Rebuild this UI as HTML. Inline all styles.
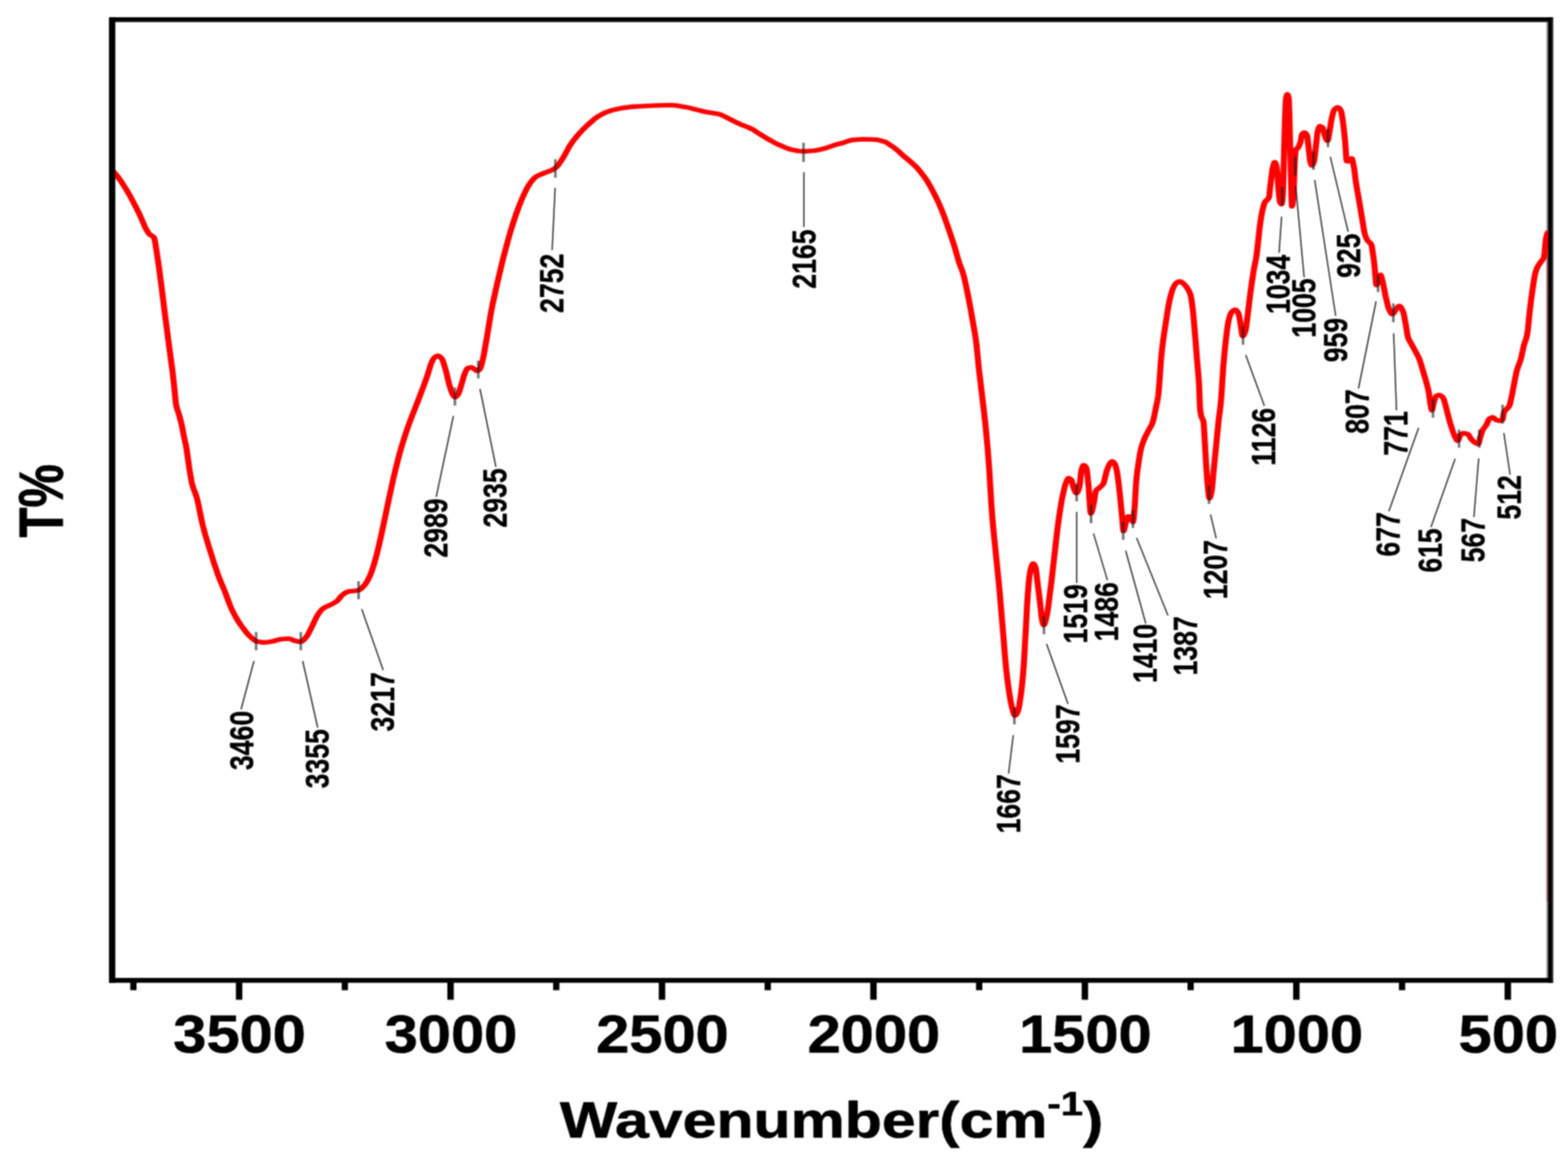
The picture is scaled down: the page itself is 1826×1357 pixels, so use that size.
<!DOCTYPE html>
<html lang="en"><head><meta charset="utf-8"><title>FTIR spectrum</title>
<style>html,body{margin:0;padding:0;background:#fff;overflow:hidden}svg{display:block}text{font-family:"Liberation Sans",sans-serif;fill:#000}.b{font-weight:700}</style></head><body>
<svg width="1826" height="1357" viewBox="0 0 1826 1357">
<defs><filter id="soft" x="0" y="0" width="1826" height="1357" filterUnits="userSpaceOnUse" color-interpolation-filters="sRGB"><feConvolveMatrix order="3" kernelMatrix="1 2 1 2 4 2 1 2 1" divisor="16" edgeMode="duplicate" preserveAlpha="true"/></filter></defs>
<rect width="1826" height="1357" fill="#fff"/>
<g filter="url(#soft)">
<rect width="1826" height="1357" fill="#fff"/>
<rect x="1800.9" y="22" width="2.4" height="1121" fill="#858585"/>
<rect x="1800.9" y="270" width="2.4" height="780" fill="#965656"/>
<g transform="scale(1.3,1)"><path d="M100.77 199 L103.08 202 L104.42 204.08 L105.96 206.67 L109.04 212.39 L113.08 220.61 L115 224.83 L117.12 229.76 L123.27 244.98 L125 249.76 L129.42 262.95 L130.58 266.07 L131.54 268.42 L132.69 270.83 L133.92 272.8 L134.81 273.72 L136.73 275.14 L137.5 276.04 L137.88 276.67 L138.08 277.17 L138.46 278.8 L138.85 281.11 L139.42 285.49 L141.35 301.83 L142.5 312.48 L144.62 333.27 L147.69 365.42 L152.38 412 L154.42 431.38 L155.77 446.78 L157.5 469.39 L157.88 472.26 L158.46 475.38 L160.38 482.87 L162.31 492.34 L163.27 497.95 L164.92 509.6 L166.54 518.5 L167.5 526.06 L169.62 545.95 L170.77 554.98 L171.54 560.4 L172.12 563.75 L172.88 567.27 L173.65 570.17 L175.58 576.77 L176.54 580.92 L177.69 587.3 L180.38 604.69 L181.54 611.49 L183.85 622.76 L186.54 634.49 L191.54 655.14 L195 668.42 L197.12 675.68 L201.35 688.76 L205.96 704.77 L207.69 710 L209.23 714.04 L210.77 717.8 L213.46 723.73 L216.35 729.27 L219.62 734.94 L221.15 737.36 L222.69 739.59 L224.23 741.59 L226.73 744.51 L227.88 745.72 L228.85 746.51 L229.42 746.85 L230.19 747.12 L233.46 747.95 L235.77 748.23 L237.88 748.19 L240.58 747.8 L244.81 746.86 L249.62 745.07 L251.35 744.59 L255.38 744.14 L258.65 744 L259.42 744.1 L260.38 744.44 L263.08 745.94 L264.23 746.44 L267.31 747.28 L269.23 747.5 L269.81 747.39 L270.38 747.08 L271.54 745.97 L272.5 744.73 L274.04 742.5 L275 740.86 L275.96 738.78 L276.92 736.39 L280.58 726.74 L282.88 720.33 L284.04 717.47 L285.19 715.14 L286.54 712.68 L287.69 710.84 L288.65 709.56 L289.62 708.58 L290.77 707.67 L291.92 706.93 L295.96 704.63 L299.23 702.34 L301.15 700.75 L302.12 699.79 L302.88 698.8 L305.38 694.77 L306.35 693.43 L308.46 691.3 L310 690.04 L311.15 689.39 L312.69 688.94 L314.42 688.63 L318.46 688.13 L320.38 687.73 L321.54 687.34 L322.5 686.69 L324.04 685.06 L326.35 681.94 L327.69 679.62 L329.23 676.34 L331.15 671.44 L331.92 669.1 L332.88 665.79 L334.04 661.39 L335.58 655 L337.31 646.8 L339.23 636.45 L341.73 622.21 L349.62 573.62 L351.73 561.08 L354.04 548.31 L356.15 537.14 L357.88 528.59 L359.62 520.68 L362.69 507.83 L366.15 494.68 L368.65 486.01 L374.23 467.62 L379.81 448.47 L382.88 437.26 L385.77 425.01 L386.35 423.06 L387.31 420.4 L388.27 418.07 L388.85 416.99 L389.23 416.46 L390.77 415.1 L391.35 414.75 L391.92 414.54 L392.69 414.56 L393.08 414.72 L393.65 415.13 L394.81 416.43 L395.58 417.5 L395.96 418.21 L396.54 419.77 L397.12 421.79 L399.23 430.84 L400 434.68 L402.31 447.38 L404.23 455.46 L405 458.11 L405.58 459.61 L406.73 461.69 L407.12 462.18 L407.5 462.46 L407.88 462.47 L408.27 462.28 L409.04 461.47 L410.19 459.65 L410.77 458.2 L411.73 454.76 L413.65 446.71 L415.38 438.63 L415.96 436.27 L417.5 431.73 L418.08 430.34 L418.65 429.3 L419.23 428.75 L420.38 428.29 L421.54 428.04 L422.5 428.06 L423.08 428.35 L423.65 428.8 L425.19 430.16 L426.54 431.61 L426.92 431.89 L427.31 432 L427.88 431.87 L428.46 431.5 L429.23 430.72 L430 429.68 L430.58 428.06 L431.35 424.72 L432.88 416.44 L433.65 411.66 L436.92 387.07 L439.62 365.53 L441.35 353.79 L446.73 322.71 L450.77 300.83 L453.08 289.38 L455.58 277.52 L457.69 268.03 L459.62 260 L462.31 249.53 L464.62 241.21 L466.73 234.26 L469.23 226.83 L471.54 220.58 L472.69 217.81 L473.65 215.75 L475.38 212.5 L476.73 210.21 L477.88 208.48 L479.04 207.03 L479.81 206.25 L480.96 205.29 L483.27 203.78 L487.5 201.5 L492.5 199.23 L494.62 198 L495.96 197.01 L497.12 195.99 L498.27 194.78 L499.04 193.78 L500 192.29 L500.96 190.61 L504.23 184.23 L505.77 180.83 L509.04 172.93 L510.58 169.44 L512.12 166.42 L514.23 162.71 L517.88 156.97 L522.12 150.99 L525.77 146.36 L530.96 140.36 L533.46 137.72 L535.77 135.61 L538.85 133.33 L541.92 131.36 L544.62 129.93 L547.5 128.72 L550.96 127.53 L554.81 126.48 L559.23 125.5 L563.27 124.79 L567.31 124.28 L572.31 123.83 L583.08 123.13 L594.04 122.66 L600.58 122.5 L603.46 122.64 L607.69 123.27 L614.62 124.77 L617.12 125.5 L622.31 127.25 L631.35 130.13 L634.42 130.9 L641.92 132.35 L644.23 133 L645.58 133.54 L648.08 134.97 L661.35 143.64 L663.85 145.03 L670 148.17 L673.27 150.13 L675.38 151.71 L680.38 155.94 L688.08 162.05 L693.08 165.64 L697.31 168.43 L703.08 171.69 L706.54 173.4 L709.04 174.34 L713.46 175.48 L715.58 175.91 L717.31 176.15 L720.58 176.23 L723.65 176.05 L727.31 175.68 L729.81 175.36 L732.12 174.9 L735.19 174.05 L739.42 172.66 L741.35 171.84 L747.12 169.13 L749.04 168.41 L754.42 166.69 L759.42 164.39 L761.15 163.69 L763.08 163.16 L766.54 162.71 L769.81 162.41 L772.88 162.3 L779.81 162.4 L784.23 162.63 L787.12 163.21 L790.19 164.18 L792.88 165.27 L794.62 166.41 L799.81 170.94 L803.65 174.79 L805.38 176.76 L809.42 181.68 L815.19 187.88 L818.27 191.39 L820.19 193.73 L821.73 195.8 L823.27 198.1 L827.31 204.79 L830.19 210.09 L832.5 215.04 L837.31 226.81 L840.19 234.46 L843.08 243.09 L846.15 253.31 L850.96 271.13 L854.23 283.88 L855.58 289.56 L858.08 301.02 L859.23 305.98 L860 308.91 L861.73 314.57 L862.5 317.5 L863.46 321.98 L864.62 328.27 L867.5 346.24 L869.23 358.2 L873.27 388.13 L874.04 394.55 L874.81 402.03 L876.92 430 L881.54 480.26 L882.88 496.59 L884.04 512.09 L885 526.61 L886.08 545 L888.08 587.89 L889.04 604.28 L890.19 620.66 L894.62 677.6 L895.58 690.73 L898.65 738.01 L900.38 766.2 L901.15 777 L902.12 788.27 L903.08 798.11 L904.23 808.21 L905.38 817.13 L906.35 823.05 L907.88 830.33 L908.27 831.77 L908.65 832.84 L909.04 833.42 L909.23 833.5 L909.62 833.35 L910 832.91 L910.77 831.37 L911.92 828 L912.5 825.42 L913.08 821.61 L913.85 815.2 L914.81 806.11 L915.58 797.47 L916.54 784.14 L917.31 770.88 L919.04 730.38 L920 706.07 L920.77 691.09 L921.35 681.57 L921.92 673.81 L922.5 668.46 L923.27 663.17 L923.85 660.3 L924.23 659 L925 657.14 L925.38 656.6 L925.58 656.5 L925.96 656.67 L926.54 657.59 L927.12 659.12 L927.69 661.17 L928.08 663.91 L928.46 667.74 L929.23 676.56 L931.85 704 L932.88 716.81 L933.27 720.65 L934.04 725.2 L934.62 727.48 L934.81 727.86 L935 728 L935.19 727.91 L935.38 727.65 L935.77 726.7 L936.54 723.44 L937.88 715.85 L938.46 711.61 L939.04 706.47 L942.12 675.03 L946.73 621.88 L948.27 606.3 L949.81 592.77 L951.54 579.73 L953.27 569.44 L953.85 566.58 L954.42 564.2 L955.58 560.22 L956.35 558.06 L956.92 557.14 L957.12 557.02 L957.5 557.03 L957.88 557.18 L958.46 557.6 L959.62 559 L959.81 559.41 L960.19 560.85 L961.35 566.77 L962.88 572.06 L963.46 573.55 L963.85 574.17 L964.23 574.4 L964.62 574.21 L965 573.65 L965.58 572.26 L966.15 570.32 L966.92 567.11 L967.31 563.82 L968.46 549.68 L968.77 547.5 L969.42 544.7 L970 542.83 L970.38 542.1 L970.58 541.93 L970.96 541.95 L971.54 542.34 L971.92 542.8 L972.5 543.76 L973.08 545 L973.27 545.69 L973.65 548.31 L974.04 552.16 L975.19 566.69 L976.54 592.78 L976.92 597.18 L977.12 597.98 L977.31 597.94 L977.69 597.26 L978.08 595.97 L978.85 592.07 L980.19 583.69 L981.15 574.99 L981.35 573.58 L981.69 572 L982.12 571.15 L982.69 570.3 L984.62 568.46 L986.92 565.66 L987.69 564.51 L988.46 563 L988.85 561.82 L989.23 560.13 L991.15 549.53 L992.12 545.93 L993.08 542.78 L994.04 540.36 L995.38 538.05 L995.77 537.65 L996.15 537.5 L996.54 537.59 L996.92 537.85 L997.69 538.75 L998.46 540 L999.04 541.53 L999.62 543.92 L1000.19 546.91 L1000.96 552.1 L1001.73 559.47 L1003.27 576.84 L1005.31 604 L1005.96 614.89 L1006.15 617.3 L1006.35 618.46 L1006.54 618.4 L1006.92 617.42 L1007.31 615.65 L1008.46 609.01 L1009.81 603.29 L1010.19 602.12 L1010.38 601.76 L1010.62 601.6 L1013.08 601.63 L1013.27 601.94 L1013.46 602.53 L1014.23 606.11 L1014.62 607.56 L1014.81 607.93 L1014.92 608 L1015 607.92 L1015.19 607.12 L1015.58 603.44 L1016.38 591.5 L1016.73 584.97 L1017.5 566.58 L1018.08 557.07 L1019.04 546.66 L1020.38 534.95 L1021.15 528.89 L1021.73 524.99 L1022.31 521.83 L1023.27 517.6 L1024.23 514.13 L1025.38 510.46 L1026.54 507.27 L1029.23 500.52 L1031.15 496.12 L1031.92 494.09 L1032.88 490.84 L1033.65 486.83 L1035.23 476.3 L1036.73 467.08 L1037.31 462.75 L1037.69 459.23 L1038.46 448.21 L1040 419.72 L1040.77 409.29 L1041.54 400.78 L1042.5 391.36 L1045.77 363.45 L1046.73 356.14 L1047.5 351.11 L1048.65 344.82 L1049.62 340.22 L1050.38 337.16 L1051.08 335 L1052.31 332.03 L1053.27 330.28 L1054 329.4 L1055.38 328.29 L1056.15 327.91 L1056.92 327.81 L1057.5 328 L1058.27 328.54 L1060 330.23 L1060.96 331.35 L1061.92 332.72 L1063.08 334.68 L1064.42 337.34 L1065.19 339.19 L1065.96 341.55 L1066.54 343.8 L1066.92 345.89 L1067.31 348.74 L1068.46 360 L1069.04 367.14 L1070.77 393.72 L1072.5 422.01 L1073.65 439 L1074.23 450.3 L1074.81 471.39 L1075 476 L1075.38 480.18 L1075.96 484.05 L1076.54 486.46 L1077.31 488.3 L1077.69 489.46 L1078.08 491.3 L1078.27 493.25 L1078.65 500.54 L1080.38 539.86 L1081.54 561.12 L1082.5 573.83 L1083.08 579.35 L1083.27 580.16 L1083.38 580.3 L1083.65 580.09 L1084.04 579.17 L1084.62 576.72 L1085.38 572.3 L1085.96 566.27 L1087.12 549.25 L1091.15 496 L1091.92 487.04 L1093.08 475.47 L1093.69 468 L1094.23 459 L1095.77 427.83 L1097.12 408.17 L1098.08 396.51 L1099.23 384.33 L1100 377.31 L1100.69 372.7 L1101.35 369.55 L1101.92 367.19 L1102.5 365.31 L1103.08 364.02 L1104.42 362.17 L1105.38 361.24 L1105.96 360.92 L1106.35 360.81 L1106.73 360.83 L1107.12 361.02 L1107.88 361.92 L1108.65 363.36 L1109.42 365.2 L1109.81 366.82 L1110.19 369.25 L1111.54 379.47 L1112.5 388.22 L1112.88 390.67 L1113.08 391.33 L1113.27 391.5 L1113.65 391.25 L1114.23 390.21 L1115 387.88 L1115.77 384.86 L1116.15 382.39 L1116.54 378.96 L1120 342.18 L1121.54 327.65 L1123.27 313.35 L1125 302.29 L1125.58 297.69 L1126.35 289.62 L1128.46 264.4 L1128.92 260 L1130 251.19 L1130.58 247.08 L1131.15 243.6 L1131.92 239.86 L1132.69 236.81 L1133.08 235.67 L1133.65 234.49 L1134.23 233.74 L1135.19 232.8 L1135.77 232.09 L1136.35 231 L1136.73 229.84 L1137.12 226.74 L1137.88 217.4 L1139.62 199.21 L1140 196.5 L1140.58 193.3 L1140.96 191.41 L1141.35 189.94 L1141.73 189.11 L1141.92 189 L1142.12 189.1 L1142.5 189.83 L1143.08 192.05 L1143.85 196.5 L1144.23 201.21 L1145.19 219.88 L1145.96 229.59 L1146.54 234.63 L1146.73 235.42 L1147.31 236.99 L1147.69 237.63 L1147.88 237.77 L1148.08 237.74 L1148.27 237.13 L1148.46 235.9 L1148.85 231.98 L1149.15 227.8 L1149.42 220.59 L1150.96 144.59 L1151.54 124.38 L1151.73 119.24 L1152 115 L1152.5 111.76 L1152.88 110.32 L1153.08 110.03 L1153.27 110.04 L1153.46 110.29 L1153.65 110.77 L1154.04 112.35 L1154.46 115 L1154.62 117.61 L1155 133.26 L1156.92 230.39 L1157.12 237.52 L1157.31 240.3 L1157.5 240.03 L1157.69 239.24 L1158.08 236.34 L1158.46 232.01 L1158.85 226.34 L1159.77 190.2 L1160.19 181.18 L1160.58 175.85 L1160.69 175.2 L1161.15 173.99 L1161.54 173.36 L1162.5 172.33 L1162.88 171.77 L1163.46 170.49 L1164.04 168.8 L1164.81 166 L1165.19 164.2 L1165.96 158.69 L1166.35 156.69 L1166.92 155.66 L1167.5 154.95 L1168.08 154.56 L1168.46 154.5 L1169.04 154.75 L1169.62 155.38 L1170.19 156.34 L1170.77 157.6 L1170.96 158.38 L1171.35 161.46 L1173.46 186.07 L1173.65 187.49 L1174.04 189.46 L1174.62 191.82 L1175 192.62 L1175.15 192.7 L1175.38 192.6 L1175.77 192.05 L1176.35 190.49 L1177.08 187.7 L1177.31 186.41 L1177.88 180.99 L1179.81 158.22 L1180.19 154.36 L1180.46 152.6 L1180.96 150.38 L1181.35 148.93 L1181.73 147.82 L1182.12 147.15 L1182.31 147.01 L1182.88 147.1 L1183.27 147.3 L1183.85 147.78 L1184.81 148.96 L1185 149.41 L1185.38 150.96 L1186.54 157.03 L1187.5 160.4 L1188.08 162.21 L1188.46 163.15 L1188.85 163.74 L1189.04 163.88 L1189.23 163.87 L1189.42 163.51 L1189.62 162.82 L1190 160.66 L1191.35 150.64 L1192.5 140.98 L1192.88 138.27 L1194.04 132.11 L1194.81 128.97 L1195.19 127.94 L1196.15 126.56 L1197.12 125.59 L1197.88 125.17 L1198.46 125.11 L1199.04 125.39 L1199.62 125.98 L1200.38 127.19 L1201.15 128.8 L1201.35 129.39 L1201.73 131.35 L1202.31 135.7 L1203.46 146.32 L1204.23 155.18 L1205 165.2 L1205.96 183.11 L1206.15 185.81 L1206.35 187.41 L1206.46 187.7 L1208.38 187.7 L1208.65 187.59 L1209.04 187.14 L1210.19 185.06 L1210.58 184.61 L1210.85 184.5 L1210.96 184.56 L1211.15 184.88 L1211.35 185.46 L1211.73 187.24 L1213.08 196.36 L1214.42 210.31 L1215.19 216.89 L1217.54 234.1 L1220.38 256.19 L1221.54 265.69 L1222.31 271.05 L1222.62 272.6 L1223.27 275.17 L1223.85 277.06 L1224.42 278.63 L1225.08 280.1 L1225.58 280.96 L1227.31 282.92 L1227.88 283.81 L1228.46 285.1 L1228.85 286.87 L1230.19 298.18 L1230.96 306.1 L1231.35 310.69 L1232.69 330.53 L1232.88 331.95 L1233.08 331.94 L1233.27 331.71 L1233.85 330.16 L1235.38 323.26 L1235.96 321.18 L1236.35 320.38 L1236.54 320.22 L1236.73 320.25 L1236.92 320.52 L1237.5 322.45 L1238.85 329.3 L1241.15 344.7 L1243.27 356.31 L1243.85 358.78 L1244.31 360.3 L1245.58 363.67 L1246.15 364.87 L1246.54 365.45 L1246.92 365.81 L1247.31 365.89 L1247.69 365.7 L1248.08 365.26 L1248.65 364.27 L1250.38 360.67 L1252.31 357.46 L1252.69 356.96 L1253.08 356.62 L1253.65 356.53 L1254.23 356.93 L1255 358.09 L1255.77 359.81 L1256.92 363.04 L1257.31 364.66 L1257.69 366.84 L1259.42 379.2 L1260.77 390.24 L1261.35 393.25 L1261.73 394.55 L1262.31 396.12 L1267.31 407.69 L1270.38 415.18 L1271.73 419.19 L1272.88 423.8 L1276.73 440.88 L1278.65 449.71 L1279.23 452.65 L1280 457.56 L1281.31 470.2 L1282.12 475.84 L1282.5 477.46 L1282.69 477.7 L1282.88 477.49 L1283.08 476.91 L1283.46 474.92 L1284.23 469.73 L1284.62 467.7 L1285.77 463.12 L1286.35 461.64 L1286.92 461.08 L1287.88 460.47 L1288.65 460.23 L1289.42 460.25 L1290 460.46 L1290.77 460.97 L1291.54 461.7 L1292.5 462.87 L1292.88 463.73 L1293.46 465.7 L1295 472.42 L1297.31 484.59 L1298.08 488.32 L1299.62 495.25 L1301.15 501.38 L1302.31 505.61 L1303.08 508.01 L1304.62 511.82 L1305.19 512.9 L1305.58 513.31 L1305.96 513.36 L1306.35 512.71 L1306.73 511.48 L1307.69 507.75 L1307.88 507.17 L1308.23 506.5 L1309.23 505.52 L1310.19 504.85 L1310.96 504.61 L1312.12 504.7 L1313.65 505.2 L1315.19 506.05 L1315.58 506.56 L1315.96 507.27 L1317.69 511.13 L1319.62 513.78 L1320.96 515.23 L1322.5 516.44 L1323.46 517.04 L1324.23 517.17 L1324.42 516.89 L1324.81 515.58 L1325.96 509.49 L1327.31 504.04 L1328.08 501.35 L1328.46 500.3 L1329.04 499.08 L1330.77 496.34 L1331.54 494.86 L1333.27 489.75 L1333.65 488.77 L1334.04 488.03 L1334.81 487.28 L1335.77 486.62 L1336.54 486.29 L1337.31 486.22 L1337.69 486.41 L1338.08 486.77 L1339.23 488.23 L1339.81 488.83 L1341.15 489.5 L1342.69 490.04 L1343.85 490.2 L1344.42 490.11 L1345.19 489.66 L1345.85 489 L1345.96 488.75 L1346.35 486.66 L1347.12 480.97 L1347.5 479.72 L1348.27 478.3 L1351.35 474.14 L1352.12 472.6 L1352.5 471.25 L1352.88 469.37 L1354.23 461.33 L1357.88 436.81 L1358.65 432.26 L1359.62 428.09 L1361.35 422.29 L1362.23 418.8 L1362.88 415.43 L1365 402.88 L1365.58 400.3 L1367.12 394.57 L1368 390 L1368.65 384.07 L1370.19 364.2 L1371.73 347.69 L1373.65 330.14 L1374.42 323.97 L1375 320.09 L1375.58 317.1 L1376.15 314.68 L1376.73 312.66 L1377.31 311 L1377.88 309.63 L1378.65 308.11 L1380.58 304.63 L1382.12 302.1 L1382.69 300.73 L1383.08 299.5 L1383.27 298.4 L1383.65 294.25 L1384.42 282.9 L1384.81 278.38 L1385.19 276 L1385.96 272.49 L1386.54 270.85 L1386.73 270.59 L1386.92 270.5" fill="none" stroke="#ff0000" stroke-width="5.4" stroke-linejoin="round" stroke-linecap="butt"/></g>
<g stroke="#182020" stroke-opacity="0.62" stroke-width="3" fill="none">
<line x1="298.25" y1="736.25" x2="298.25" y2="757.5"/>
<line x1="350.25" y1="736.25" x2="350.25" y2="757.5"/>
<line x1="417.6" y1="677" x2="417.6" y2="698"/>
<line x1="529.8" y1="451.25" x2="529.8" y2="472.5"/>
<line x1="557" y1="420" x2="557" y2="440.75"/>
<line x1="646.75" y1="185.5" x2="646.75" y2="207"/>
<line x1="935.75" y1="166.25" x2="935.75" y2="188.75"/>
<line x1="1181.25" y1="823.75" x2="1181.25" y2="843.75"/>
<line x1="1215.75" y1="717.5" x2="1215.75" y2="738.75"/>
<line x1="1253.8" y1="563" x2="1253.8" y2="584"/>
<line x1="1270.6" y1="588" x2="1270.6" y2="609.5"/>
<line x1="1308" y1="607.6" x2="1308" y2="628.7"/>
<line x1="1319.4" y1="594" x2="1319.4" y2="615"/>
<line x1="1408" y1="565.3" x2="1408" y2="587"/>
<line x1="1447.6" y1="380.2" x2="1447.6" y2="401.5"/>
<line x1="1493.2" y1="217.8" x2="1493.2" y2="239"/>
<line x1="1508.3" y1="182.7" x2="1508.3" y2="204.5"/>
<line x1="1529.6" y1="176.4" x2="1529.6" y2="197.7"/>
<line x1="1546.5" y1="150.1" x2="1546.5" y2="171.4"/>
<line x1="1604.85" y1="320.2" x2="1604.85" y2="340.2"/>
<line x1="1622.6" y1="353.4" x2="1622.6" y2="375.3"/>
<line x1="1668.8" y1="465.2" x2="1668.8" y2="486.5"/>
<line x1="1699.1" y1="500.3" x2="1699.1" y2="521.5"/>
<line x1="1722.7" y1="500.3" x2="1722.7" y2="521.5"/>
<line x1="1749.8" y1="471.4" x2="1749.8" y2="493.4"/>
</g><g stroke="#151515" stroke-opacity="0.9" stroke-width="1.5" fill="none">
<line x1="295.75" y1="770" x2="280.75" y2="826.25"/>
<line x1="352.5" y1="770" x2="370" y2="847.5"/>
<line x1="421.25" y1="709.5" x2="446.25" y2="780.5"/>
<line x1="528" y1="484.5" x2="508" y2="578.75"/>
<line x1="559" y1="453" x2="577.5" y2="543.75"/>
<line x1="646.5" y1="218.75" x2="643" y2="291.25"/>
<line x1="936.25" y1="200.5" x2="936.25" y2="264.5"/>
<line x1="1180" y1="856.25" x2="1174.5" y2="901.25"/>
<line x1="1218.75" y1="750" x2="1243.75" y2="820"/>
<line x1="1253.8" y1="596.3" x2="1253.8" y2="679"/>
<line x1="1273.4" y1="621.4" x2="1289.7" y2="675.9"/>
<line x1="1310.9" y1="641.5" x2="1334.3" y2="726.2"/>
<line x1="1323.6" y1="626.5" x2="1360.2" y2="717"/>
<line x1="1409.7" y1="599.3" x2="1416.3" y2="627"/>
<line x1="1450.7" y1="413.6" x2="1472.4" y2="472.8"/>
<line x1="1492.5" y1="252.3" x2="1489.5" y2="294.5"/>
<line x1="1508.9" y1="216.5" x2="1518.75" y2="323"/>
<line x1="1531" y1="209.6" x2="1555.5" y2="368"/>
<line x1="1549.2" y1="182.7" x2="1570" y2="270"/>
<line x1="1602.5" y1="351" x2="1582" y2="452.5"/>
<line x1="1623" y1="388.3" x2="1626.25" y2="478"/>
<line x1="1652.1" y1="498.2" x2="1617.4" y2="595.6"/>
<line x1="1694.6" y1="534.2" x2="1666.4" y2="613.9"/>
<line x1="1722" y1="534" x2="1716.4" y2="602.2"/>
<line x1="1751.3" y1="504.3" x2="1758.6" y2="553"/>
</g>
<g class="b" font-size="31" stroke="#000" stroke-width="0.35" stroke-linejoin="round">
<text transform="translate(295.25,897.05) rotate(-90) scale(1,1.28)" x="0" y="0">3460</text>
<text transform="translate(382.75,918.3) rotate(-90) scale(1,1.28)" x="0" y="0">3355</text>
<text transform="translate(459,852.05) rotate(-90) scale(1,1.28)" x="0" y="0">3217</text>
<text transform="translate(521,649.55) rotate(-90) scale(1,1.28)" x="0" y="0">2989</text>
<text transform="translate(590.25,614.55) rotate(-90) scale(1,1.28)" x="0" y="0">2935</text>
<text transform="translate(656,364.55) rotate(-90) scale(1,1.28)" x="0" y="0">2752</text>
<text transform="translate(949.5,336.3) rotate(-90) scale(1,1.28)" x="0" y="0">2165</text>
<text transform="translate(1187.75,970.8) rotate(-90) scale(1,1.28)" x="0" y="0">1667</text>
<text transform="translate(1257,889.55) rotate(-90) scale(1,1.28)" x="0" y="0">1597</text>
<text transform="translate(1265.8,749.55) rotate(-90) scale(1,1.28)" x="0" y="0">1519</text>
<text transform="translate(1302,747.05) rotate(-90) scale(1,1.28)" x="0" y="0">1486</text>
<text transform="translate(1346.7,795.6) rotate(-90) scale(1,1.28)" x="0" y="0">1410</text>
<text transform="translate(1393.6,786.8) rotate(-90) scale(1,1.28)" x="0" y="0">1387</text>
<text transform="translate(1428.8,698) rotate(-90) scale(1,1.28)" x="0" y="0">1207</text>
<text transform="translate(1484.8,542.3) rotate(-90) scale(1,1.28)" x="0" y="0">1126</text>
<text transform="translate(1501.5,365.8) rotate(-90) scale(1,1.28)" x="0" y="0">1034</text>
<text transform="translate(1532,393.3) rotate(-90) scale(1,1.28)" x="0" y="0">1005</text>
<text transform="translate(1568.5,422.05) rotate(-90) scale(1,1.28)" x="0" y="0">959</text>
<text transform="translate(1584,323.8) rotate(-90) scale(1,1.28)" x="0" y="0">925</text>
<text transform="translate(1594,505.3) rotate(-90) scale(1,1.28)" x="0" y="0">807</text>
<text transform="translate(1639.4,530.8) rotate(-90) scale(1,1.28)" x="0" y="0">771</text>
<text transform="translate(1629.6,648.3) rotate(-90) scale(1,1.28)" x="0" y="0">677</text>
<text transform="translate(1679.3,667.1) rotate(-90) scale(1,1.28)" x="0" y="0">615</text>
<text transform="translate(1729,655) rotate(-90) scale(1,1.28)" x="0" y="0">567</text>
<text transform="translate(1771,605.2) rotate(-90) scale(1,1.28)" x="0" y="0">512</text>
</g>
<g fill="#000">
<rect x="127.3" y="20.1" width="1681.5" height="5.2"/>
<rect x="127.3" y="24.6" width="1681.5" height="1.2" fill="#3a3a3a"/>
<rect x="127.3" y="1139.1" width="1681.5" height="5.2"/>
<rect x="127.3" y="1143.8" width="1681.5" height="1.1" fill="#333"/>
<rect x="126.9" y="20.1" width="7.4" height="1124.8"/>
<rect x="1803" y="20.1" width="4.2" height="1124.8"/>
<rect x="1807" y="20.1" width="1.9" height="1124.8" fill="#333"/>
<rect x="1752.14" y="1144" width="7.5" height="20.5"/>
<rect x="1505.9" y="1144" width="7.5" height="20.5"/>
<rect x="1259.66" y="1144" width="7.5" height="20.5"/>
<rect x="1013.42" y="1144" width="7.5" height="20.5"/>
<rect x="767.18" y="1144" width="7.5" height="20.5"/>
<rect x="520.94" y="1144" width="7.5" height="20.5"/>
<rect x="274.7" y="1144" width="7.5" height="20.5"/>
<rect x="1629.12" y="1144" width="7.3" height="9.4"/>
<rect x="1382.88" y="1144" width="7.3" height="9.4"/>
<rect x="1136.64" y="1144" width="7.3" height="9.4"/>
<rect x="890.4" y="1144" width="7.3" height="9.4"/>
<rect x="644.16" y="1144" width="7.3" height="9.4"/>
<rect x="397.92" y="1144" width="7.3" height="9.4"/>
<rect x="151.68" y="1144" width="7.3" height="9.4"/>
</g>
<g class="b" font-size="62.9" text-anchor="middle" stroke="#000" stroke-width="0.7" stroke-linejoin="round">
<text transform="translate(1756.44,1226.4) scale(1.104,1)">500</text>
<text transform="translate(1510.2,1226.4) scale(1.104,1)">1000</text>
<text transform="translate(1263.96,1226.4) scale(1.104,1)">1500</text>
<text transform="translate(1017.72,1226.4) scale(1.104,1)">2000</text>
<text transform="translate(771.48,1226.4) scale(1.104,1)">2500</text>
<text transform="translate(525.24,1226.4) scale(1.104,1)">3000</text>
<text transform="translate(279,1226.4) scale(1.104,1)">3500</text>
</g>
<text class="b" stroke="#000" stroke-width="0.7" stroke-linejoin="round" font-size="60" transform="translate(652,1324.8) scale(1.18,1)">Wavenumber(cm<tspan font-size="39.6" dy="-25.8">-1</tspan><tspan dy="25.8">)</tspan></text>
<text class="b" stroke="#000" stroke-width="0.7" stroke-linejoin="round" font-size="57" transform="translate(72.8,626) rotate(-90) scale(1,1.26)">T%</text>
</g>
</svg></body></html>
